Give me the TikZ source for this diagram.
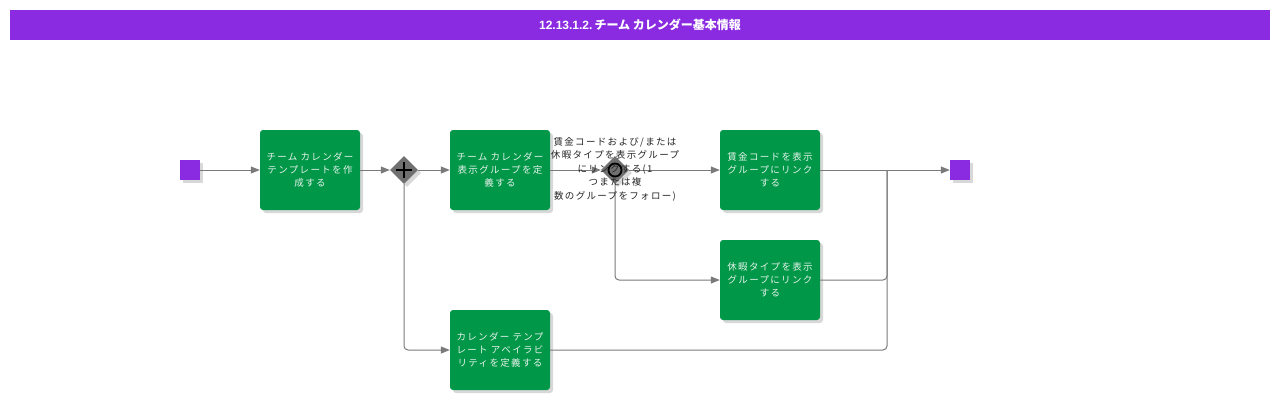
\documentclass[tikz,border=0pt]{standalone}
\usepackage{fontspec}
\setmainfont{Liberation Sans}
\newfontfamily\jp{Noto Sans CJK JP}
\newfontfamily\jpsp{Noto Sans CJK JP}[LetterSpace=14]
\usetikzlibrary{shadows,arrows.meta,shapes.geometric}
\definecolor{titlepurple}{HTML}{8A2BE2}
\definecolor{taskgreen}{HTML}{009848}
\definecolor{gwgrey}{HTML}{707070}
\definecolor{flowgrey}{HTML}{7A7A7A}
\definecolor{tasktext}{HTML}{E6F2EA}
\tikzset{
  shad/.style={drop shadow={shadow xshift=3pt,shadow yshift=-3pt,opacity=0.3,fill=black!50}},
  task/.style={shape=rectangle,rounded corners=3pt,fill=taskgreen,minimum width=100pt,minimum height=80pt,
    text width=98pt,align=center,inner sep=0pt,text=tasktext,
    font=\jpsp\fontsize{9.5}{13}\selectfont,shad},
  ev/.style={shape=rectangle,fill=titlepurple,minimum size=20pt,inner sep=0pt,shad},
  gw/.style={shape=diamond,fill=gwgrey,minimum width=28pt,minimum height=28pt,inner sep=0pt,shad},
  flow/.style={draw=flowgrey,line width=1pt,-{Triangle[length=9pt,width=7pt]}},
  seq/.style={draw=flowgrey,line width=1pt},
  glabel/.style={align=center,inner sep=0pt,text=black!85,font=\jpsp\fontsize{9.5}{13.5}\selectfont}
}
\begin{document}
\begin{tikzpicture}[x=1pt,y=-1pt]
\useasboundingbox (0,0) rectangle (1280,400);
\fill[white] (0,0) rectangle (1280,400);
\node[fill=titlepurple,minimum width=1260pt,minimum height=30pt,inner sep=0pt,text=white,
  font=\bfseries\fontsize{12}{14}\selectfont] (title) at (640,25) {12.13.1.2.\,{\jp チーム カレンダー基本情報}};

\node[ev] (s) at (190,170) {};
\node[task] (t1) at (310,170) {チーム カレンダー\\テンプレートを作\\成する};
\node[gw] (g1) at (404,170) {};
\draw[line width=2.6pt,black] ([xshift=-8pt]g1.center) -- ([xshift=8pt]g1.center);
\draw[line width=2.6pt,black] ([yshift=-8pt]g1.center) -- ([yshift=8pt]g1.center);
\node[task] (t2) at (500,170) {チーム カレンダー\\表示グループを定\\義する};
\node[gw] (g2) at (615,170) {};
\draw[line width=1.8pt,black] (g2.center) circle[radius=6.5pt];
\node[task] (t3) at (770,170) {賃金コードを表示\\グループにリンク\\する};
\node[task] (t4) at (770,280) {休暇タイプを表示\\グループにリンク\\する};
\node[task] (t5) at (500,350) {カレンダー テンプ\\レート アベイラビ\\リティを定義する};
\node[ev] (e) at (960,170) {};
\coordinate (j) at (887,170);

\draw[flow] (s) -- (t1);
\draw[flow] (t1) -- (g1);
\draw[flow] (g1) -- (t2);
\draw[flow,rounded corners=4pt] (g1) |- (t5);
\draw[flow] (t2) -- (g2);
\draw[flow] (g2) -- (t3);
\draw[flow,rounded corners=4pt] (g2) |- (t4);
\draw[flow] (t3) -- (e);
\draw[seq,rounded corners=4pt] (t4) -| (j);
\draw[seq,rounded corners=4pt] (t5) -| (j);

\node[glabel] (gl) at (615,169) {賃金コードおよび/または\\休暇タイプを表示グループ\\にリンクする(1\\つまたは複\\数のグループをフォロー)};
\end{tikzpicture}
\end{document}
